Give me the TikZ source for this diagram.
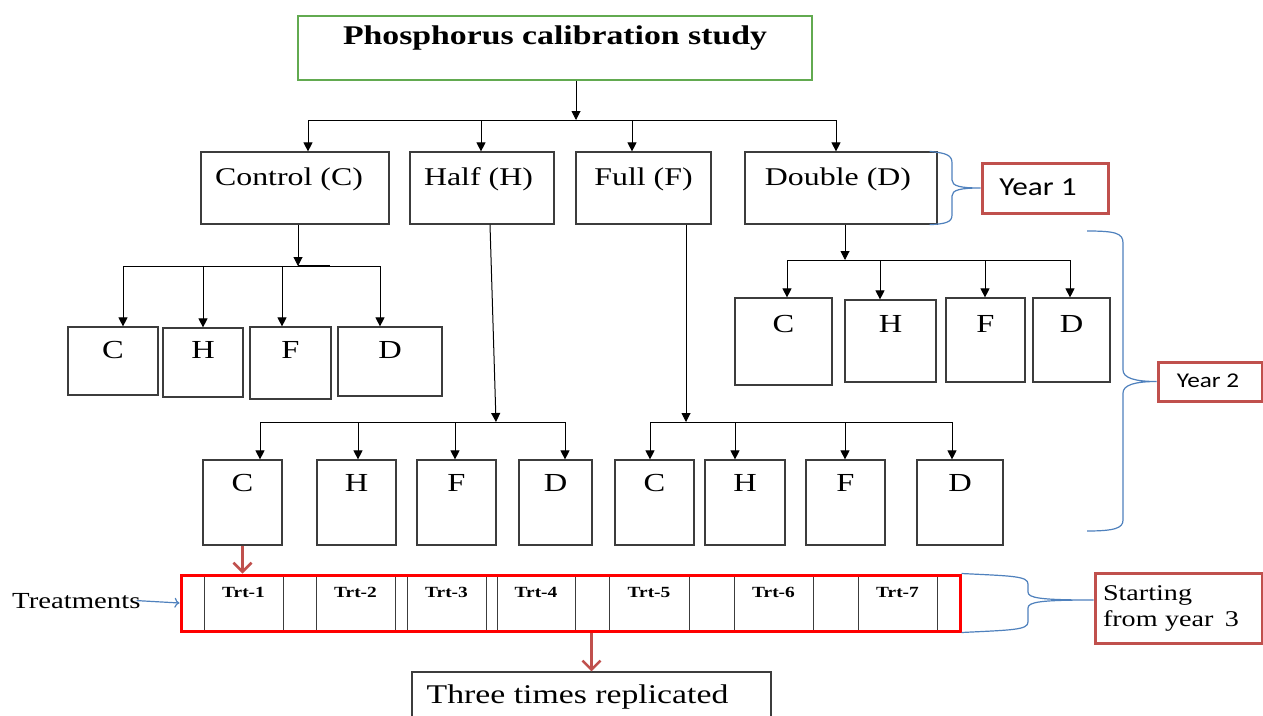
\documentclass[tikz,border=0pt]{standalone}
\usepackage{fontspec}
\setmainfont[FakeStretch=1.25]{Liberation Serif}
\newfontfamily\calib[FakeStretch=1.2]{Carlito}
\usetikzlibrary{arrows.meta,calc}
\definecolor{boxgray}{RGB}{60,60,60}
\definecolor{tgreen}{RGB}{98,170,80}
\definecolor{yred}{RGB}{192,80,77}
\definecolor{bred}{RGB}{255,0,0}
\definecolor{bblue}{RGB}{79,129,189}
\newcommand\padr[1]{\hspace*{#1}\mbox{}}
\tikzset{
  tbox/.style={draw=boxgray, line width=1.2pt, inner xsep=0pt, inner ysep=0pt, font=\fontsize{25.5}{30}\selectfont},
  lbox/.style={tbox, font=\fontsize{26}{30}\selectfont},
  cell/.style={draw=boxgray, line width=0.8pt, inner xsep=0pt, inner ysep=0pt, text height=21pt, text depth=33pt, font=\bfseries\fontsize{15.5}{18}\selectfont},
  ybox/.style={draw=yred, line width=3pt, inner xsep=0pt, inner ysep=0pt},
  arr/.style={draw=black, line width=1pt, -{Triangle[length=9pt,width=9pt]}},
  ln/.style={draw=black, line width=1pt},
  redarr/.style={draw=yred, line width=2.5pt, -{Straight Barb[length=9pt,width=18pt]}},
  brace/.style={draw=bblue, line width=1.2pt}
}
\begin{document}
\begin{tikzpicture}[x=1pt,y=-1pt]
\useasboundingbox (0,0) rectangle (1263,715);
\fill[white] (0,0) rectangle (1263,715);

% title
\node[tbox, draw=tgreen, minimum width=514pt, text height=28pt, text depth=36pt, font=\bfseries\fontsize{27}{32}\selectfont] (title) at (555,48) {Phosphorus calibration study};

% year 1 boxes
\node[tbox, minimum width=188pt, text height=33pt, text depth=39pt] (ctrl) at (295,188) {Control (C)\padr{12pt}};
\node[tbox, minimum width=144pt, text height=33pt, text depth=39pt] (half) at (482,188) {Half (H)\padr{7pt}};
\node[tbox, minimum width=135pt, text height=33pt, text depth=39pt] (full) at (643.5,188) {Full (F)};
\node[tbox, minimum width=192pt, text height=33pt, text depth=39pt] (dbl) at (841,188) {Double (D)\padr{6pt}};

% control children
\node[lbox, minimum width=90pt, text height=31pt, text depth=37pt] (cc) at (113,361) {C};
\node[lbox, minimum width=80pt, text height=30pt, text depth=39pt] (ch) at (203,362.5) {H};
\node[lbox, minimum width=81pt, text height=31pt, text depth=41pt] (cf) at (290.5,363) {F};
\node[lbox, minimum width=104pt, text height=31pt, text depth=38pt] (cd) at (390,361.5) {D};

% double children
\node[lbox, minimum width=97pt, text height=34pt, text depth=53pt] (dc) at (783.5,341.5) {C};
\node[lbox, minimum width=91pt, text height=32pt, text depth=50pt] (dh) at (890.5,341) {H};
\node[lbox, minimum width=79pt, text height=34pt, text depth=50pt] (df) at (985.5,340) {F};
\node[lbox, minimum width=77pt, text height=34pt, text depth=50pt] (dd) at (1071.5,340) {D};

% half and full children
\node[lbox, minimum width=79pt, text height=31pt, text depth=54pt] (hc) at (242.5,502.5) {C};
\node[lbox, minimum width=79pt, text height=31pt, text depth=54pt] (hh) at (356.5,502.5) {H};
\node[lbox, minimum width=79pt, text height=31pt, text depth=54pt] (hf) at (456.5,502.5) {F};
\node[lbox, minimum width=73pt, text height=31pt, text depth=54pt] (hd) at (555.5,502.5) {D};
\node[lbox, minimum width=79pt, text height=31pt, text depth=54pt] (fc) at (654.5,502.5) {C};
\node[lbox, minimum width=80pt, text height=31pt, text depth=54pt] (fh) at (745,502.5) {H};
\node[lbox, minimum width=79pt, text height=31pt, text depth=54pt] (ff) at (845.5,502.5) {F};
\node[lbox, minimum width=86pt, text height=31pt, text depth=54pt] (fd) at (960,502.5) {D};

% treatments row
\node[cell, minimum width=79pt] (t1) at (243.5,603) {Trt-1};
\node[cell, minimum width=79pt] (t2) at (355.5,603) {Trt-2};
\node[cell, minimum width=79pt] (t3) at (446.5,603) {Trt-3};
\node[cell, minimum width=78pt] (t4) at (536,603) {Trt-4};
\node[cell, minimum width=80pt] (t5) at (649,603) {Trt-5};
\node[cell, minimum width=79pt] (t6) at (773.5,603) {Trt-6};
\node[cell, minimum width=79pt] (t7) at (897.5,603) {Trt-7};
\node[draw=bred, line width=3pt, minimum width=779pt, minimum height=56pt, inner sep=0pt] (trt) at (570.5,603) {};

\node[anchor=base west, inner sep=0pt, font=\fontsize{23}{28}\selectfont] (treat) at (12,608) {Treatments};

\node[tbox, minimum width=359pt, text height=31pt, text depth=19pt, font=\fontsize{27}{32}\selectfont] (rep) at (591.5,697) {Three times replicated\padr{28pt}};

% year labels
\node[ybox, minimum width=126pt, text height=32pt, text depth=18pt, font=\calib\fontsize{26}{30}\selectfont] (y1) at (1045,188) {Year 1\padr{14pt}};
\node[ybox, minimum width=104pt, text height=25pt, text depth=14pt, font=\calib\fontsize{21}{25}\selectfont] (y2) at (1210,381.5) {Year 2\padr{4pt}};
\node[ybox, minimum width=167pt, minimum height=70pt, text width=151pt, align=left, font=\fontsize{22.5}{26}\selectfont] (s3) at (1178.5,608) {Starting\\from year\enskip 3};

% title connectors
\coordinate (j0) at (576,120);
\coordinate (a1) at (308,120);
\coordinate (a2) at (481,120);
\coordinate (a3) at (632,120);
\coordinate (a4) at (836,120);
\draw[arr] (title.south -| j0) -- (j0);
\draw[ln] (a1) -- (a4);
\draw[arr] (a1) -- (a1 |- ctrl.north);
\draw[arr] (a2) -- (a2 |- half.north);
\draw[arr] (a3) -- (a3 |- full.north);
\draw[arr] (a4) -- (a4 |- dbl.north);

% control connectors
\coordinate (k0) at (298,266);
\coordinate (k1) at (123,266);
\coordinate (k2) at (203,266);
\coordinate (k3) at (282,266);
\coordinate (k4) at (380,266);
\coordinate (k5) at (330,266);
\draw[arr] (ctrl.south -| k0) -- (k0);
\draw[ln] (k1) -- (k4);
\draw[line width=2.2pt] (k0) -- (k5);
\draw[arr] (k1) -- (k1 |- cc.north);
\draw[arr] (k2) -- (k2 |- ch.north);
\draw[arr] (k3) -- (k3 |- cf.north);
\draw[arr] (k4) -- (k4 |- cd.north);

% half connectors
\coordinate (h0) at (496,422);
\coordinate (h1) at (260,422);
\coordinate (h2) at (358,422);
\coordinate (h3) at (455,422);
\coordinate (h4) at (565,422);
\draw[arr] ($(half.south)+(8,0)$) -- (h0);
\draw[ln] (h1) -- (h4);
\draw[arr] (h1) -- (h1 |- hc.north);
\draw[arr] (h2) -- (h2 |- hh.north);
\draw[arr] (h3) -- (h3 |- hf.north);
\draw[arr] (h4) -- (h4 |- hd.north);

% full connectors
\coordinate (f0) at (686,422);
\coordinate (f1) at (650,422);
\coordinate (f2) at (735,422);
\coordinate (f3) at (845,422);
\coordinate (f4) at (952,422);
\draw[arr] (full.south -| f0) -- (f0);
\draw[ln] (f1) -- (f4);
\draw[arr] (f1) -- (f1 |- fc.north);
\draw[arr] (f2) -- (f2 |- fh.north);
\draw[arr] (f3) -- (f3 |- ff.north);
\draw[arr] (f4) -- (f4 |- fd.north);

% double connectors
\coordinate (d0) at (845,260);
\coordinate (d1) at (787,260);
\coordinate (d2) at (880,260);
\coordinate (d3) at (985,260);
\coordinate (d4) at (1070,260);
\draw[arr] (dbl.south -| d0) -- (d0);
\draw[ln] (d1) -- (d4);
\draw[arr] (d1) -- (d1 |- dc.north);
\draw[arr] (d2) -- (d2 |- dh.north);
\draw[arr] (d3) -- (d3 |- df.north);
\draw[arr] (d4) -- (d4 |- dd.north);

% red arrows
\draw[redarr] (hc.south) -- (hc.south |- trt.north);
\draw[redarr] (trt.south -| rep.north) -- (rep.north);

% treatments arrow
\draw[brace, -{To[length=5pt,width=10pt]}] ($(treat.east)+(-4,0)$) -- (trt.west);

% braces
\draw[brace] ($(dbl.north east)+(-8,0)$) .. controls (946,153) and (952,155) .. (952,163) -- (952,180)
  .. controls (952,186) and (960,188) .. (y1.west)
  .. controls (960,188) and (952,190) .. (952,196) -- (952,215)
  .. controls (952,222) and (946,224) .. ($(dbl.south east)+(-8,0)$);

\coordinate (b2t) at (1087,231);
\coordinate (b2b) at (1087,531);
\draw[brace] (b2t) .. controls (1115,231) and (1123,233) .. (1123,243) -- (1123,370)
  .. controls (1123,378) and (1135,381.5) .. (y2.west)
  .. controls (1135,381.5) and (1123,385) .. (1123,393) -- (1123,520)
  .. controls (1123,528) and (1115,531) .. (b2b);

\draw[brace] (trt.north east) .. controls (1012,576) and (1028,576) .. (1028,584) -- (1028,592)
  .. controls (1028,598) and (1040,600) .. ($(s3.west)+(0,-8)$)
  .. controls (1040,600) and (1028,602) .. (1028,608) -- (1028,622)
  .. controls (1028,630) and (1012,630) .. (trt.south east);
\end{tikzpicture}
\end{document}
